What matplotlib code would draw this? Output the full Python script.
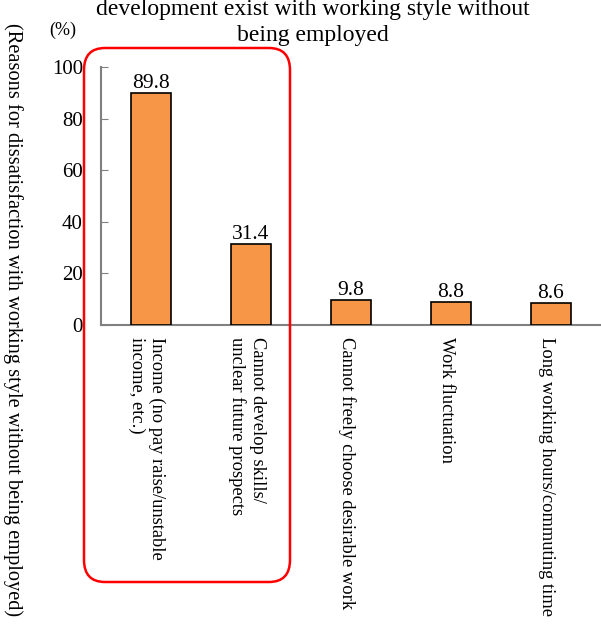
import matplotlib.pyplot as plt
from matplotlib.patches import FancyBboxPatch

categories = [
    "Income (no pay raise/unstable\nincome, etc.)",
    "Cannot develop skills/\nunclear future prospects",
    "Cannot freely choose desirable work",
    "Work fluctuation",
    "Long working hours/commuting time",
]
values = [89.8, 31.4, 9.8, 8.8, 8.6]
yticks = [0, 20, 40, 60, 80, 100]

plt.rcParams['font.family'] = ['Liberation Serif', 'DejaVu Serif']

W, H = 601, 631
fig = plt.figure(figsize=(W / 100, H / 100), dpi=100)
ax = fig.add_axes([101 / W, (H - 325) / H, 500 / W, (325 - 67) / H])

x = range(len(values))
ax.bar(x, values, width=0.4, color="#F79646", edgecolor="black", linewidth=1.2, zorder=3)
for xi, v in zip(x, values):
    ax.text(xi, v, f"{v}", ha="center", va="bottom", fontsize=15.5)

ax.set_xlim(-0.5, 4.5)
ax.set_ylim(0, 100)
ax.set_yticks(yticks)
ax.tick_params(axis="y", direction="in", length=5, color="gray", labelsize=15, pad=13)
ax.set_xticks([])
for s in ["top", "right"]:
    ax.spines[s].set_visible(False)
for s in ["left", "bottom"]:
    ax.spines[s].set_color("gray")
    ax.spines[s].set_linewidth(1.5)

for xi, lab in zip(x, categories):
    ax.text(xi - 0.04, -4.5, lab, rotation=-90, ha="center", va="top",
            multialignment="left", fontsize=13.3, rotation_mode="default")

fig.text(0.5 + 12 / W, 1 - 9 / H, "development exist with working style without",
         ha="center", va="center", fontsize=17)
fig.text(0.5 + 12 / W, 1 - 35 / H, "being employed", ha="center", va="center", fontsize=17)
fig.text(63 / W, 1 - 30 / H, "(%)", ha="center", va="center", fontsize=13)
fig.text(13 / W, 1 - 320 / H,
         "(Reasons for dissatisfaction with working style without being employed)",
         rotation=-90, ha="center", va="center", fontsize=14.7)

box = FancyBboxPatch((84 / W, 1 - 582 / H), 206 / W, 534 / H,
                     boxstyle="round,pad=0.0,rounding_size=0.035",
                     transform=fig.transFigure, fill=False, edgecolor="red",
                     linewidth=1.8, zorder=5)
fig.patches.append(box)

fig.savefig("out.png", dpi=100)
